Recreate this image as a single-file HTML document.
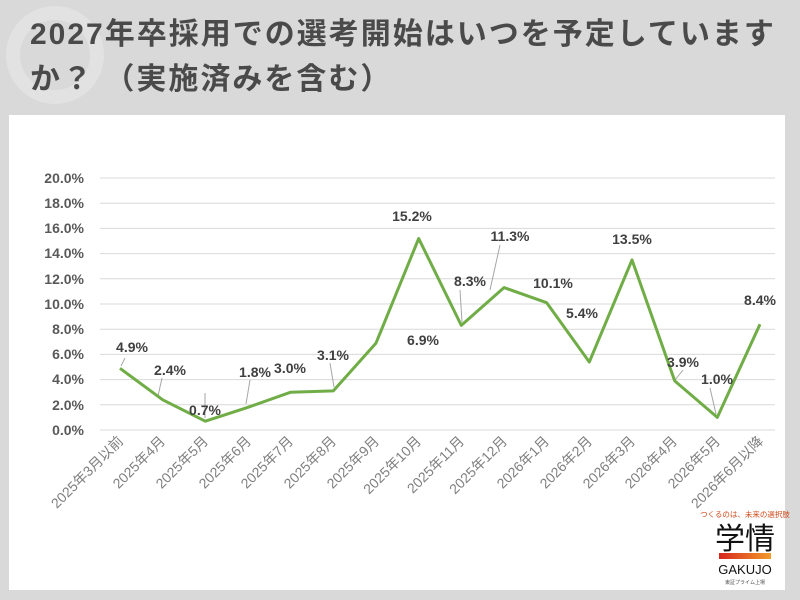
<!DOCTYPE html>
<html><head><meta charset="utf-8"><style>
body{margin:0;width:800px;height:600px;background:#d9d9d9;overflow:hidden;font-family:"Liberation Sans","Noto Sans CJK JP",sans-serif}
.t{position:absolute;left:30px;top:12px;font-size:30px;font-weight:bold;color:#4a4a4a;line-height:45px;letter-spacing:2px;white-space:nowrap}
.card{position:absolute;left:9px;top:115px;width:776px;height:475px;background:#fff}
</style></head><body>
<svg style="position:absolute;left:0;top:0" width="120" height="120"><circle cx="55" cy="55" r="42" fill="none" stroke="#e2e2e2" stroke-width="14"/></svg>
<div class="t">2027年卒採用での選考開始はいつを予定しています<br>か？ （実施済みを含む）</div>
<div class="card"></div>
<svg style="position:absolute;left:0;top:0" width="800" height="600" font-family="Liberation Sans, Noto Sans CJK JP, sans-serif">
<g stroke="#d9d9d9" stroke-width="1">
<line x1="100" x2="775" y1="178" y2="178"/><line x1="100" x2="775" y1="203.2" y2="203.2"/><line x1="100" x2="775" y1="228.4" y2="228.4"/><line x1="100" x2="775" y1="253.6" y2="253.6"/><line x1="100" x2="775" y1="278.8" y2="278.8"/><line x1="100" x2="775" y1="304" y2="304"/><line x1="100" x2="775" y1="329.2" y2="329.2"/><line x1="100" x2="775" y1="354.4" y2="354.4"/><line x1="100" x2="775" y1="379.6" y2="379.6"/><line x1="100" x2="775" y1="404.8" y2="404.8"/><line x1="100" x2="775" y1="430" y2="430"/>
</g>
<g font-size="14" font-weight="bold" fill="#595959" text-anchor="end">
<text x="84" y="183">20.0%</text><text x="84" y="208">18.0%</text><text x="84" y="233">16.0%</text><text x="84" y="258">14.0%</text><text x="84" y="284">12.0%</text><text x="84" y="309">10.0%</text><text x="84" y="334">8.0%</text><text x="84" y="359">6.0%</text><text x="84" y="384">4.0%</text><text x="84" y="410">2.0%</text><text x="84" y="435">0.0%</text>
</g>
<g stroke="#a6a6a6" stroke-width="1">
<line x1="162" y1="378" x2="158" y2="396"/><line x1="205" y1="393" x2="205" y2="418"/><line x1="250" y1="380" x2="246" y2="404"/><line x1="330" y1="363" x2="334" y2="387"/><line x1="460" y1="290" x2="462" y2="322"/><line x1="500" y1="245" x2="490" y2="290"/><line x1="683" y1="370" x2="675" y2="380"/><line x1="710" y1="388" x2="716" y2="414"/><line x1="125" y1="358" x2="121" y2="366"/>
</g>
<polyline fill="none" stroke="#70ad47" stroke-width="3" stroke-linejoin="round" points="120,368.3 162.7,399.8 205.3,421.2 248,407.3 290.7,392.2 333.3,390.9 376,343.1 418.7,238.5 461.3,325.4 504,287.6 546.7,302.7 589.3,362 632,259.9 674.7,380.9 717.3,417.4 760,324.2"/>
<g font-size="14" font-weight="bold" fill="#404040" text-anchor="middle">
<text x="132" y="352">4.9%</text><text x="170" y="375">2.4%</text><text x="205" y="415">0.7%</text><text x="255" y="377">1.8%</text><text x="290" y="373">3.0%</text><text x="333" y="360">3.1%</text><text x="423" y="345">6.9%</text><text x="412" y="221">15.2%</text><text x="470" y="286">8.3%</text><text x="510" y="241">11.3%</text><text x="553" y="288">10.1%</text><text x="582" y="318">5.4%</text><text x="632" y="244">13.5%</text><text x="683" y="367">3.9%</text><text x="717" y="384">1.0%</text><text x="760" y="305">8.4%</text>
</g>
<g font-size="14" fill="#7f7f7f" text-anchor="end">
<text transform="translate(124,442) rotate(-45)">2025年3月以前</text>
<text transform="translate(166,442) rotate(-45)">2025年4月</text>
<text transform="translate(209,442) rotate(-45)">2025年5月</text>
<text transform="translate(252,442) rotate(-45)">2025年6月</text>
<text transform="translate(294,442) rotate(-45)">2025年7月</text>
<text transform="translate(337,442) rotate(-45)">2025年8月</text>
<text transform="translate(380,442) rotate(-45)">2025年9月</text>
<text transform="translate(422,442) rotate(-45)">2025年10月</text>
<text transform="translate(465,442) rotate(-45)">2025年11月</text>
<text transform="translate(508,442) rotate(-45)">2025年12月</text>
<text transform="translate(550,442) rotate(-45)">2026年1月</text>
<text transform="translate(593,442) rotate(-45)">2026年2月</text>
<text transform="translate(636,442) rotate(-45)">2026年3月</text>
<text transform="translate(678,442) rotate(-45)">2026年4月</text>
<text transform="translate(721,442) rotate(-45)">2026年5月</text>
<text transform="translate(764,442) rotate(-45)">2026年6月以降</text>
</g>
<text x="745" y="517" font-size="7.5" fill="#d04a1a" text-anchor="middle">つくるのは、未来の選択肢</text>
<text x="745" y="549" font-size="30" fill="#111" text-anchor="middle">学情</text>
<defs><linearGradient id="g"><stop offset="0" stop-color="#d7261e"/><stop offset="1" stop-color="#f39a2b"/></linearGradient></defs>
<rect x="719" y="553" width="52" height="6" fill="url(#g)"/>
<text x="745" y="574" font-size="13" fill="#111" text-anchor="middle">GAKUJO</text>
<text x="745" y="584" font-size="5" fill="#555" text-anchor="middle">東証プライム上場</text>
</svg>
</body></html>
